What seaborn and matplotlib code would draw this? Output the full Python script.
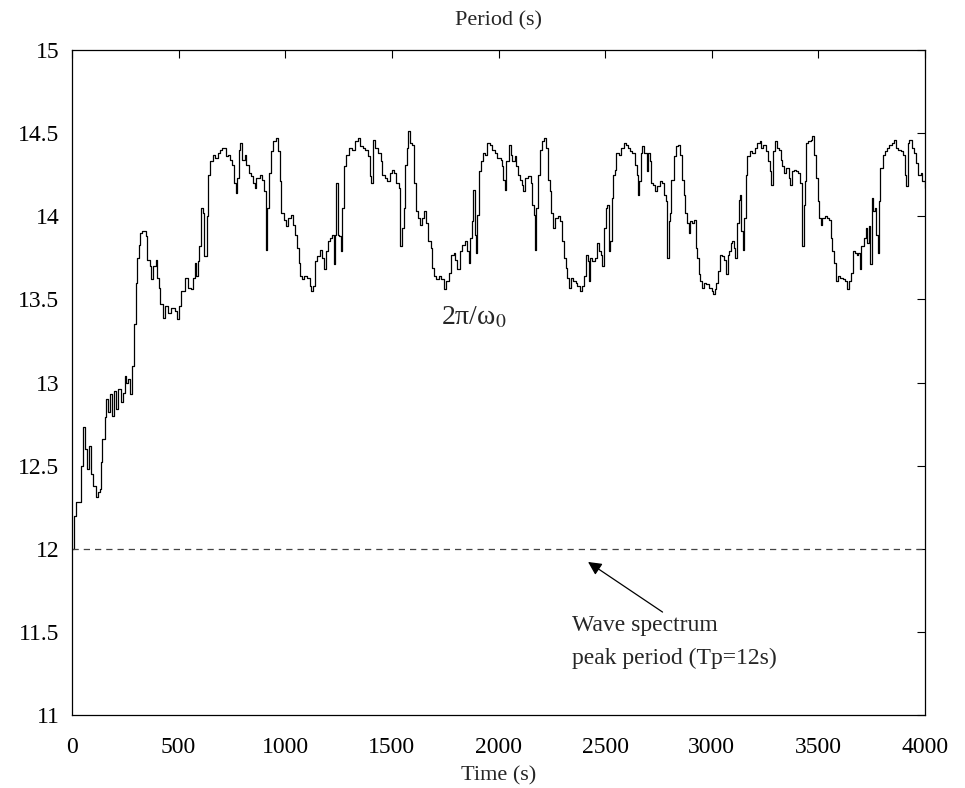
import pandas as pd
import numpy as np
import matplotlib
matplotlib.use("Agg")
import matplotlib.pyplot as plt
import seaborn as sns

# estimated period 2*pi/omega0 (time in s, period in s)
time_s = [0, 8, 20, 40, 52, 60, 70, 80, 90, 100, 111, 120, 130, 138, 143, 153, 160, 168, 178, 188,
          198, 208, 218, 228, 239, 247, 255, 263, 270, 280, 289, 298, 305, 312, 318, 330, 346, 352, 364, 370,
          380, 392, 399, 406, 414, 427, 437, 450, 465, 482, 493, 502, 513, 529, 544, 560, 567, 575, 582, 590,
          597, 605, 613, 621, 631, 636, 646, 654, 662, 672, 685, 695, 705, 716, 724, 733, 743, 752, 758, 768,
          774, 783, 790, 799, 810, 818, 830, 838, 849, 857, 865, 880, 890, 901, 908, 912, 916, 924, 935, 943,
          955, 966, 974, 982, 993, 1002, 1013, 1029, 1037, 1044, 1055, 1065, 1071, 1080, 1090, 1102, 1115, 1123, 1130, 1138,
          1149, 1162, 1170, 1180, 1193, 1201, 1212, 1221, 1227, 1233, 1240, 1246, 1253, 1260, 1268, 1274, 1287, 1299, 1313, 1326,
          1342, 1349, 1365, 1376, 1388, 1396, 1404, 1412, 1423, 1435, 1448, 1454, 1467, 1479, 1490, 1501, 1512, 1521, 1532, 1540,
          1548, 1557, 1563, 1571, 1576, 1584, 1595, 1604, 1612, 1623, 1631, 1639, 1649, 1659, 1670, 1682, 1690, 1698, 1709, 1720,
          1732, 1745, 1756, 1767, 1776, 1789, 1798, 1807, 1818, 1829, 1842, 1854, 1860, 1868, 1876, 1881, 1889, 1893, 1901, 1909,
          1917, 1928, 1938, 1948, 1959, 1970, 1982, 1995, 2010, 2016, 2022, 2029, 2037, 2048, 2058, 2065, 2076, 2084, 2092, 2100,
          2108, 2115, 2123, 2139, 2150, 2158, 2165, 2170, 2178, 2186, 2194, 2204, 2212, 2222, 2233, 2240, 2248, 2256, 2267, 2279,
          2290, 2300, 2308, 2315, 2323, 2331, 2339, 2350, 2362, 2370, 2381, 2392, 2400, 2409, 2419, 2425, 2431, 2440, 2451, 2462,
          2472, 2480, 2487, 2495, 2503, 2509, 2519, 2525, 2531, 2537, 2545, 2553, 2565, 2576, 2587, 2600, 2608, 2616, 2628, 2639,
          2647, 2653, 2659, 2666, 2675, 2684, 2694, 2702, 2709, 2717, 2725, 2736, 2745, 2756, 2767, 2777, 2784, 2792, 2799, 2806,
          2811, 2822, 2831, 2842, 2853, 2861, 2869, 2875, 2884, 2892, 2900, 2908, 2917, 2924, 2933, 2939, 2947, 2955, 2964, 2975,
          2988, 2999, 3006, 3014, 3022, 3030, 3038, 3049, 3058, 3066, 3074, 3081, 3089, 3097, 3105, 3111, 3119, 3127, 3133, 3139,
          3145, 3152, 3160, 3167, 3178, 3189, 3202, 3214, 3225, 3233, 3241, 3252, 3264, 3272, 3280, 3288, 3296, 3305, 3315, 3324,
          3331, 3339, 3350, 3361, 3369, 3378, 3385, 3397, 3405, 3413, 3421, 3425, 3432, 3439, 3444, 3452, 3463, 3472, 3479, 3488,
          3496, 3504, 3511, 3519, 3530, 3541, 3550, 3558, 3566, 3574, 3582, 3590, 3600, 3613, 3624, 3635, 3644, 3652, 3660, 3671,
          3679, 3686, 3694, 3702, 3713, 3722, 3730, 3738, 3744, 3750, 3757, 3765, 3772, 3779, 3785, 3791, 3801, 3811, 3822, 3832,
          3843, 3854, 3863, 3874, 3885, 3897, 3905, 3913, 3918, 3926, 3937, 3947, 3957, 3968, 3979, 3988, 4000]
period_s = [12.0, 12.2, 12.28, 12.5, 12.73, 12.6, 12.48, 12.62, 12.45, 12.38, 12.31, 12.34, 12.36, 12.52, 12.66, 12.79, 12.9, 12.82, 12.93, 12.8,
            12.95, 12.84, 12.96, 12.88, 12.94, 13.04, 13.0, 13.02, 12.93, 13.1, 13.35, 13.6, 13.75, 13.83, 13.9, 13.91, 13.88, 13.74, 13.7, 13.62,
            13.7, 13.74, 13.63, 13.57, 13.47, 13.39, 13.46, 13.42, 13.45, 13.43, 13.38, 13.46, 13.55, 13.63, 13.57, 13.56, 13.63, 13.72, 13.64, 13.73,
            13.82, 14.05, 14.02, 13.76, 14.0, 14.25, 14.33, 14.33, 14.37, 14.35, 14.38, 14.4, 14.41, 14.41, 14.36, 14.37, 14.34, 14.31, 14.2, 14.14,
            14.23, 14.4, 14.44, 14.34, 14.37, 14.31, 14.26, 14.24, 14.2, 14.17, 14.23, 14.25, 14.22, 14.15, 14.09, 13.8, 14.05, 14.26, 14.39, 14.45,
            14.47, 14.39, 14.21, 14.02, 13.98, 13.94, 13.99, 14.01, 13.95, 13.89, 13.81, 13.72, 13.64, 13.62, 13.64, 13.63, 13.58, 13.55, 13.58, 13.73,
            13.76, 13.8, 13.75, 13.68, 13.79, 13.85, 13.87, 13.89, 13.71, 13.89, 14.2, 13.89, 13.88, 13.79, 14.05, 14.3, 14.37, 14.41, 14.4, 14.45,
            14.47, 14.42, 14.41, 14.4, 14.36, 14.24, 14.2, 14.46, 14.41, 14.38, 14.33, 14.25, 14.23, 14.21, 14.26, 14.28, 14.26, 14.2, 14.17, 13.82,
            13.93, 14.05, 14.31, 14.41, 14.51, 14.44, 14.43, 14.2, 14.03, 13.99, 13.95, 13.99, 14.03, 13.96, 13.85, 13.81, 13.69, 13.64, 13.62, 13.64,
            13.62, 13.56, 13.61, 13.66, 13.77, 13.78, 13.74, 13.68, 13.79, 13.83, 13.85, 13.79, 13.72, 13.87, 13.97, 14.16, 13.89, 13.78, 14.01, 14.27,
            14.33, 14.38, 14.37, 14.44, 14.43, 14.4, 14.38, 14.35, 14.34, 14.3, 14.22, 14.16, 14.33, 14.43, 14.37, 14.33, 14.36, 14.3, 14.25, 14.22,
            14.19, 14.15, 14.23, 14.24, 14.2, 14.07, 14.01, 13.8, 14.05, 14.25, 14.4, 14.45, 14.47, 14.41, 14.22, 14.15, 14.02, 13.93, 13.99, 14.0,
            13.97, 13.85, 13.75, 13.69, 13.63, 13.57, 13.63, 13.61, 13.6, 13.58, 13.55, 13.58, 13.64, 13.77, 13.73, 13.61, 13.75, 13.73, 13.75, 13.84,
            13.79, 13.77, 13.7, 13.93, 14.05, 14.07, 13.79, 13.85, 14.11, 14.25, 14.28, 14.38, 14.37, 14.41, 14.44, 14.43, 14.41, 14.39, 14.38, 14.31,
            14.25, 14.13, 14.21, 14.38, 14.42, 14.38, 14.27, 14.38, 14.33, 14.2, 14.19, 14.15, 14.18, 14.21, 14.2, 14.13, 14.09, 13.75, 13.97, 14.02,
            14.22, 14.36, 14.42, 14.43, 14.37, 14.22, 14.13, 14.02, 13.96, 13.9, 13.97, 13.96, 13.98, 13.81, 13.75, 13.65, 13.61, 13.57, 13.6, 13.59,
            13.57, 13.55, 13.53, 13.56, 13.6, 13.67, 13.77, 13.76, 13.74, 13.65, 13.77, 13.79, 13.84, 13.85, 13.81, 13.75, 13.96, 14.1, 14.13, 13.91,
            13.8, 13.99, 14.25, 14.36, 14.39, 14.38, 14.41, 14.44, 14.45, 14.41, 14.43, 14.39, 14.33, 14.27, 14.19, 14.39, 14.45, 14.41, 14.4, 14.34,
            14.3, 14.26, 14.29, 14.23, 14.19, 14.27, 14.28, 14.27, 14.26, 14.2, 13.89, 13.82, 14.07, 14.21, 14.44, 14.45, 14.46, 14.48, 14.37, 14.23,
            14.09, 13.99, 13.95, 13.99, 14.0, 13.99, 13.98, 13.87, 13.79, 13.72, 13.61, 13.64, 13.63, 13.62, 13.61, 13.56, 13.61, 13.66, 13.79, 13.78,
            13.77, 13.78, 13.68, 13.82, 13.87, 13.93, 13.84, 13.94, 13.71, 14.11, 14.03, 14.05, 13.89, 13.78, 14.09, 14.29, 14.37, 14.39, 14.41, 14.43,
            14.44, 14.46, 14.41, 14.4, 14.39, 14.37, 14.25, 14.18, 14.44, 14.46, 14.41, 14.38, 14.32, 14.25, 14.26, 14.21, 14.17]

peak_period = 12.0
x_ticks = [0, 500, 1000, 1500, 2000, 2500, 3000, 3500, 4000]
y_ticks = [11, 11.5, 12, 12.5, 13, 13.5, 14, 14.5, 15]

df = pd.DataFrame({"t": time_s, "T": period_s})

sns.set_style("white")
plt.rcParams["font.family"] = ["Liberation Serif", "DejaVu Serif"]
plt.rcParams["mathtext.fontset"] = "stix"

fig = plt.figure(figsize=(9.65, 7.88), dpi=100)
ax = fig.add_axes([0.0746, 0.0926, 0.884, 0.8439])

sns.lineplot(data=df, x="t", y="T", ax=ax, color="black", linewidth=0.9,
             drawstyle="steps-post", estimator=None, sort=False)
ax.axhline(peak_period, color="#444444", linestyle=(0, (5, 4)), linewidth=0.9)

ax.set_xlim(0, 4000)
ax.set_ylim(11, 15)
ax.set_xticks(x_ticks)
ax.set_yticks(y_ticks)
ax.set_yticklabels([("%g" % v) for v in y_ticks])
ax.tick_params(direction="in", length=6, width=0.8, top=True, right=True,
               labelsize=17, colors="black")
ax.tick_params(axis="x", pad=16)
ax.tick_params(axis="y", pad=9)
for s in ax.spines.values():
    s.set_color("black")
    s.set_linewidth(0.9)

ax.set_title("Period (s)", fontsize=16, pad=18)
ax.set_xlabel("Time (s)", fontsize=16, labelpad=6)
ax.set_ylabel("")

ax.text(1729, 13.47, "2π/ω$_0$", fontsize=20, va="top", ha="left")
ax.annotate("", xy=(2409, 11.93), xytext=(2780, 11.61),
            arrowprops=dict(arrowstyle="-|>", color="black", lw=0.9, mutation_scale=20))
ax.text(2345, 11.54, "Wave spectrum", fontsize=17, va="center", ha="left")
ax.text(2345, 11.34, "peak period (Tp=12s)", fontsize=17, va="center", ha="left")

fig.savefig("out.png", dpi=100)
